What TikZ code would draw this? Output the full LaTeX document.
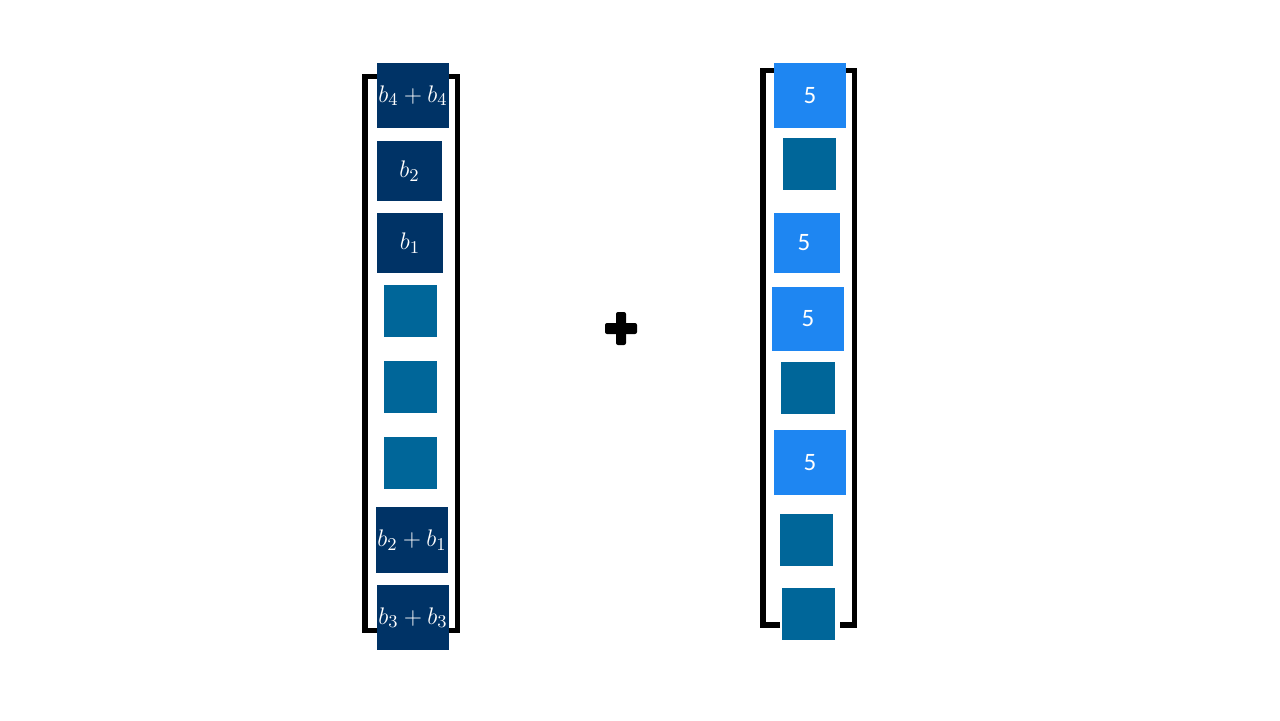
\documentclass[tikz,border=0pt]{standalone}
\usepackage{amsmath}
\usepackage{xcolor}
\usepackage{fontspec}
\usepackage{tikz}
\newfontfamily\digitfont{Carlito}
\definecolor{vnavy}{HTML}{003366}
\definecolor{vteal}{HTML}{006699}
\definecolor{vblue}{HTML}{1E86F2}

\begin{document}
\begin{tikzpicture}[x=0.5pt, y=-0.5pt,
  cell/.style={inner sep=0pt, outer sep=0pt, text=white, font=\fontsize{12.5}{14}\selectfont},
  navycell/.style={cell, fill=vnavy},
  tealcell/.style={cell, fill=vteal, minimum width=26.5pt, minimum height=26pt},
  bluecell/.style={cell, fill=vblue, font=\fontsize{12.5}{14}\digitfont},
  bracket/.style={draw=black, line width=2.9pt}]
  \useasboundingbox (0,0) rectangle (1280,720);
  % brackets
  \draw[bracket] (377,76.5) -- (365,76.5) -- (365,630.5) -- (377,630.5);
  \draw[bracket] (449,76.5) -- (457.5,76.5) -- (457.5,630.5) -- (449,630.5);
  \draw[bracket] (776,70.5) -- (763,70.5) -- (763,625) -- (780,625);
  \draw[bracket] (840,70.5) -- (854.5,70.5) -- (854.5,625) -- (840,625);
  % left vector
  \node[navycell, minimum width=36pt, minimum height=32.5pt] (l1) at (413,95.5) {\raisebox{-1pt}{$b_4+b_4$}};
  \node[navycell, minimum width=32.5pt, minimum height=30pt] (l2) at (409.5,171) {\raisebox{-1pt}{$b_2$}};
  \node[navycell, minimum width=33pt, minimum height=30pt] (l3) at (410,243) {\raisebox{-1pt}{$b_1$}};
  \node[tealcell] (l4) at (410.5,311) {};
  \node[tealcell] (l5) at (410.5,387) {};
  \node[tealcell] (l6) at (410.5,463) {};
  \node[navycell, minimum width=36pt, minimum height=33pt] (l7) at (412,540) {\raisebox{-1pt}{$b_2+b_1$}};
  \node[navycell, minimum width=36pt, minimum height=32.5pt] (l8) at (413,617.5) {\raisebox{-1pt}{$b_3+b_3$}};
  % plus sign
  \fill[black, rounded corners=1pt] (616,312) rectangle (626,345);
  \fill[black, rounded corners=1pt] (605,323) rectangle (637,334);
  % right vector
  \node[bluecell, minimum width=36pt, minimum height=32.5pt] (r1) at (810,95.5) {\raisebox{-1pt}{5}};
  \node[tealcell] (r2) at (809.5,164) {};
  \node[bluecell, minimum width=33pt, minimum height=30pt] (r3) at (807,243) {\hspace*{-3pt}\raisebox{-1pt}{5}};
  \node[bluecell, minimum width=36pt, minimum height=32pt] (r4) at (808,319) {\raisebox{-1pt}{5}};
  \node[tealcell, minimum width=27pt] (r5) at (808,388) {};
  \node[bluecell, minimum width=36pt, minimum height=32.5pt] (r6) at (810,462.5) {\raisebox{-1pt}{5}};
  \node[tealcell] (r7) at (806.5,540) {};
  \node[tealcell] (r8) at (808.5,614) {};
\end{tikzpicture}
\end{document}
